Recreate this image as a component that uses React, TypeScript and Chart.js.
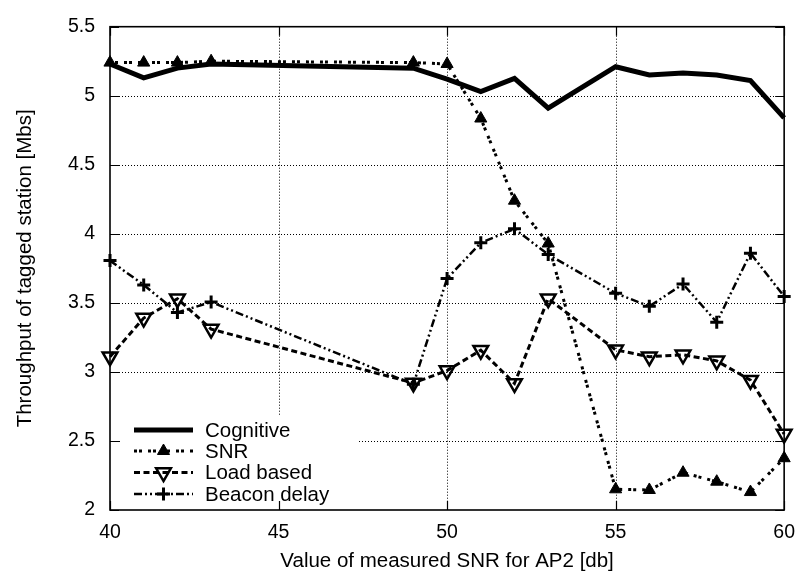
import { useEffect, useRef } from 'react';
import { Chart, registerables } from 'chart.js';

Chart.register(...registerables);

// ---- data ----
const snrValues = [40, 41, 42, 43, 49, 50, 51, 52, 53, 55, 56, 57, 58, 59, 60];
const cognitive = [5.23, 5.13, 5.2, 5.23, 5.2, 5.12, 5.03, 5.125, 4.91, 5.21, 5.15, 5.165, 5.15, 5.11, 4.84];
const snrBased = [5.24, 5.24, 5.24, 5.25, 5.24, 5.23, 4.835, 4.24, 3.93, 2.15, 2.145, 2.27, 2.205, 2.13, 2.375];
const loadBased = [3.11, 3.39, 3.53, 3.31, 2.92, 3.01, 3.157, 2.917, 3.53, 3.16, 3.11, 3.124, 3.08, 2.94, 2.55];
const beaconDelay = [3.806, 3.63, 3.43, 3.506, 2.91, 3.676, 3.935, 4.036, 3.85, 3.57, 3.475, 3.636, 3.36, 3.86, 3.546];
const seriesLabels = ['Cognitive', 'SNR', 'Load based', 'Beacon delay'];
const xTicks = [40, 45, 50, 55, 60];
const yTicks = [2, 2.5, 3, 3.5, 4, 4.5, 5, 5.5];
const xTitle = 'Value of measured SNR for AP2 [db]';
const yTitle = 'Throughput of tagged station [Mbs]';

const FONT = '"Liberation Sans", Arial, Helvetica, sans-serif';

type Style = {
  width: number;
  dash: number[];
  marker: 'none' | 'triUp' | 'triDown' | 'plus';
  r: number;
  mw: number;
};
const styles: Style[] = [
  { width: 5, dash: [], marker: 'none', r: 0, mw: 0 },
  { width: 3, dash: [3, 2, 3, 6], marker: 'triUp', r: 7, mw: 1 },
  { width: 3, dash: [6, 3.5], marker: 'triDown', r: 8.5, mw: 2.5 },
  { width: 2.5, dash: [8, 3, 2, 3, 2, 3], marker: 'plus', r: 6.5, mw: 3 },
];

function drawMarker(ctx: CanvasRenderingContext2D, s: Style, cx: number, cy: number) {
  ctx.save();
  ctx.setLineDash([]);
  ctx.strokeStyle = '#000';
  ctx.fillStyle = '#000';
  ctx.lineWidth = s.mw;
  const r = s.r;
  if (s.marker === 'triUp' || s.marker === 'triDown') {
    const sgn = s.marker === 'triUp' ? 1 : -1;
    ctx.beginPath();
    ctx.moveTo(cx, cy - sgn * r);
    ctx.lineTo(cx + r * 0.866, cy + sgn * r * 0.5);
    ctx.lineTo(cx - r * 0.866, cy + sgn * r * 0.5);
    ctx.closePath();
    if (s.marker === 'triUp') ctx.fill();
    ctx.stroke();
  } else if (s.marker === 'plus') {
    ctx.beginPath();
    ctx.moveTo(cx - r, cy);
    ctx.lineTo(cx + r, cy);
    ctx.moveTo(cx, cy - r);
    ctx.lineTo(cx, cy + r);
    ctx.stroke();
  }
  ctx.restore();
}

const gnuplotFrame = {
  id: 'gnuplotFrame',
  beforeDatasetsDraw(chart: any) {
    const { ctx, chartArea: a, scales } = chart;
    const x = scales.x;
    const y = scales.y;
    ctx.save();
    // dotted grid
    ctx.strokeStyle = '#000';
    ctx.lineWidth = 1;
    ctx.setLineDash([1, 2]);
    ctx.beginPath();
    for (const v of xTicks) {
      if (v === x.min || v === x.max) continue;
      const px = Math.round(x.getPixelForValue(v)) + 0.5;
      ctx.moveTo(px, a.top);
      ctx.lineTo(px, a.bottom);
    }
    for (const v of yTicks) {
      if (v === y.min || v === y.max) continue;
      const py = Math.round(y.getPixelForValue(v)) + 0.5;
      ctx.moveTo(a.left, py);
      ctx.lineTo(a.right, py);
    }
    ctx.stroke();
    ctx.setLineDash([]);
    // opaque key box
    ctx.fillStyle = '#fff';
    ctx.fillRect(a.left + 10, a.bottom - 94, 238, 94);
    // inward tick marks on all sides
    ctx.strokeStyle = '#000';
    ctx.lineWidth = 1.2;
    const tl = 9;
    ctx.beginPath();
    for (const v of xTicks) {
      const px = Math.round(x.getPixelForValue(v)) + 0.5;
      ctx.moveTo(px, a.bottom);
      ctx.lineTo(px, a.bottom - tl);
      ctx.moveTo(px, a.top);
      ctx.lineTo(px, a.top + tl);
    }
    for (const v of yTicks) {
      const py = Math.round(y.getPixelForValue(v)) + 0.5;
      ctx.moveTo(a.left, py);
      ctx.lineTo(a.left + tl, py);
      ctx.moveTo(a.right, py);
      ctx.lineTo(a.right - tl, py);
    }
    ctx.stroke();
    ctx.restore();
  },
  afterDatasetsDraw(chart: any) {
    const { ctx, chartArea: a } = chart;
    ctx.save();
    ctx.strokeStyle = '#000';
    ctx.lineWidth = 1.6;
    ctx.strokeRect(a.left, a.top, a.right - a.left, a.bottom - a.top);
    // key
    const rows = [80, 59, 37.5, 16];
    const x0 = a.left + 24;
    const x1 = a.left + 83;
    ctx.font = `20.5px ${FONT}`;
    ctx.textAlign = 'left';
    ctx.textBaseline = 'middle';
    ctx.fillStyle = '#000';
    chart.data.datasets.forEach((ds: any, i: number) => {
      const s = styles[i];
      const cy = a.bottom - rows[i];
      ctx.save();
      ctx.strokeStyle = '#000';
      ctx.lineWidth = s.width;
      ctx.setLineDash(s.dash);
      ctx.beginPath();
      ctx.moveTo(x0, cy);
      ctx.lineTo(x1, cy);
      ctx.stroke();
      ctx.restore();
      drawMarker(ctx, s, (x0 + x1) / 2, cy);
      ctx.fillText(ds.label, a.left + 95, cy + 1);
    });
    ctx.restore();
  },
};

function pointOpts(i: number) {
  const s = styles[i];
  if (s.marker === 'none') return { pointRadius: 0 };
  if (s.marker === 'triUp')
    return { pointStyle: 'triangle', pointRadius: s.r, pointBackgroundColor: '#000', pointBorderColor: '#000', pointBorderWidth: s.mw };
  if (s.marker === 'triDown')
    return { pointStyle: 'triangle', pointRotation: 180, pointRadius: s.r, pointBackgroundColor: 'rgba(0,0,0,0)', pointBorderColor: '#000', pointBorderWidth: s.mw };
  return { pointStyle: 'cross', pointRadius: s.r, pointBorderColor: '#000', pointBorderWidth: s.mw };
}

export default function App() {
  const ref = useRef<HTMLCanvasElement | null>(null);
  useEffect(() => {
    document.body.style.margin = '0';
    const series = [cognitive, snrBased, loadBased, beaconDelay];
    const chart = new Chart(ref.current as HTMLCanvasElement, {
      type: 'line',
      data: {
        datasets: series.map((vals, i) => ({
          label: seriesLabels[i],
          data: snrValues.map((xv, k) => ({ x: xv, y: vals[k] })),
          borderColor: '#000',
          borderWidth: styles[i].width,
          borderDash: styles[i].dash,
          borderJoinStyle: 'miter' as const,
          tension: 0,
          fill: false,
          clip: false as any,
          ...pointOpts(i),
        })),
      },
      options: {
        animation: false,
        responsive: false,
        maintainAspectRatio: false,
        devicePixelRatio: 1,
        layout: { padding: { top: 15, right: 15, left: 0, bottom: 0 } },
        plugins: { legend: { display: false }, tooltip: { enabled: false } },
        scales: {
          x: {
            type: 'linear',
            min: 40,
            max: 60,
            afterFit: (s: any) => { s.height = 71; },
            afterBuildTicks: (s: any) => { s.ticks = xTicks.map((v) => ({ value: v })); },
            grid: { display: false, drawTicks: false },
            border: { display: false },
            ticks: { color: '#000', padding: 11, font: { family: FONT, size: 19.5 }, maxRotation: 0, callback: (v: any) => String(v) },
            title: { display: true, text: xTitle, color: '#000', font: { family: FONT, size: 20.5 }, padding: { top: 0, bottom: 7 } },
          },
          y: {
            type: 'linear',
            min: 2,
            max: 5.5,
            afterFit: (s: any) => { s.width = 110; },
            afterBuildTicks: (s: any) => { s.ticks = yTicks.map((v) => ({ value: v })); },
            grid: { display: false, drawTicks: false },
            border: { display: false },
            ticks: { color: '#000', padding: 15, font: { family: FONT, size: 19.5 }, callback: (v: any) => String(v) },
            title: { display: true, text: yTitle, color: '#000', font: { family: FONT, size: 20.5 }, padding: { top: 13, bottom: 0 } },
          },
        },
      },
      plugins: [gnuplotFrame],
    } as any);
    return () => chart.destroy();
  }, []);
  return (
    <div style={{ position: 'absolute', left: 0, top: 0, width: 806, height: 581, background: '#fff' }}>
      <canvas ref={ref} width={806} height={581} style={{ width: 806, height: 581 }} />
    </div>
  );
}
